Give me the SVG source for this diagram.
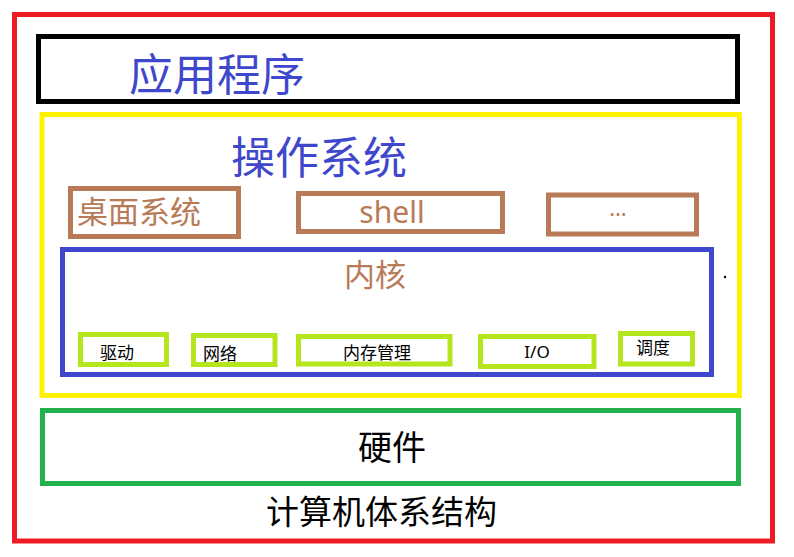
<svg xmlns="http://www.w3.org/2000/svg" width="794" height="557" viewBox="0 0 794 557">
<style>
.box{fill:none;stroke-width:5}
.cjk{font-family:"Noto Sans CJK SC","Noto Sans",sans-serif}
.lat{font-family:"Noto Sans","Noto Sans CJK SC",sans-serif}
.blue{fill:#3f48cc}
.brown{fill:#b97a57}
.blk{fill:#000}
</style>
<rect width="794" height="557" fill="#fff"/>
<g id="architecture">
<rect class="box" x="14.5" y="14.5" width="758" height="526.5" stroke="#ed1c24"/>
<text class="cjk blk" x="266" y="524" font-size="33">计算机体系结构</text>
</g>
<g id="applications">
<rect class="box" x="38.5" y="36.5" width="699" height="65" stroke="#000"/>
<text class="cjk blue" x="129" y="91" font-size="44">应用程序</text>
</g>
<g id="os">
<rect class="box" x="42" y="114.5" width="697.5" height="281" stroke="#fff200"/>
<text class="cjk blue" x="231" y="174" font-size="44">操作系统</text>
</g>
<g id="desktop">
<rect class="box" x="70.5" y="188.5" width="168" height="48" stroke="#b97a57"/>
<text class="cjk brown" x="77" y="223" font-size="31">桌面系统</text>
</g>
<g id="shell">
<rect class="box" x="298.5" y="193.5" width="204" height="38" stroke="#b97a57"/>
<text class="lat brown" x="392" y="223" font-size="30" text-anchor="middle">shell</text>
</g>
<g id="more">
<rect class="box" x="548.5" y="195" width="148" height="39" stroke="#b97a57"/>
<text class="lat brown" x="618" y="216" font-size="22" text-anchor="middle">…</text>
</g>
<g id="kernel">
<rect class="box" x="62.5" y="249.5" width="649" height="125" stroke="#3f48cc"/>
<text class="cjk brown" x="344" y="286" font-size="31">内核</text>
</g>
<g id="driver">
<rect class="box" x="80.5" y="334.5" width="86" height="30" stroke="#b5e61d"/>
<text class="cjk blk" x="100" y="359" font-size="17">驱动</text>
</g>
<g id="network">
<rect class="box" x="193.5" y="335.5" width="81.5" height="29" stroke="#b5e61d"/>
<text class="cjk blk" x="203" y="360" font-size="17">网络</text>
</g>
<g id="memory">
<rect class="box" x="298.5" y="336.5" width="151.5" height="27.5" stroke="#b5e61d"/>
<text class="cjk blk" x="343" y="359" font-size="17">内存管理</text>
</g>
<g id="io">
<rect class="box" x="480.5" y="336.5" width="113.5" height="30" stroke="#b5e61d"/>
<text class="lat blk" x="537" y="358" font-size="17" text-anchor="middle">I/O</text>
</g>
<g id="scheduler">
<rect class="box" x="620.5" y="333.5" width="72" height="30.5" stroke="#b5e61d"/>
<text class="cjk blk" x="636" y="354" font-size="17">调度</text>
</g>
<g id="hardware">
<rect class="box" x="42.5" y="410.5" width="696" height="73" stroke="#22b14c"/>
<text class="cjk blk" x="358" y="460" font-size="34">硬件</text>
</g>
<g id="mark">
<circle cx="725" cy="277" r="1.2" fill="#000"/>
</g>
<g id="connectors"/>
</svg>
